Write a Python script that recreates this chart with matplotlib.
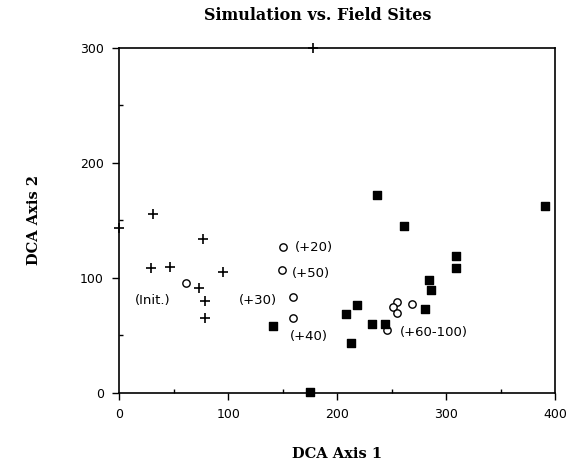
import matplotlib
matplotlib.use("Agg")
import matplotlib.pyplot as plt
from matplotlib.ticker import MultipleLocator

# Initial sites (crosses)
init_x = [30.6, 28.8, 46.6, 77.1, 73.5, 79.0, 79.0, 95.0, 178, 0]
init_y = [155.2, 108.0, 109.4, 134.1, 91.1, 79.8, 65.0, 104.5, 300, 143]

# Simulation trajectory (open circles)
sim_x = [61.2, 150.6, 149.4, 159.2, 159.2, 255.4, 251.6, 255.4, 268.5, 245.5]
sim_y = [95.0, 126.3, 106.5, 83.3, 65.0, 79.0, 74.6, 68.9, 77.2, 54.3]

# Field sites (filled squares)
field_x = [140.9, 208.0, 212.8, 236.9, 261.7, 390.9, 308.9, 308.9, 284.1, 285.9,
           281.0, 218.0, 232.3, 244.0, 175.1]
field_y = [57.8, 68.3, 42.8, 172.3, 144.8, 162.2, 118.7, 108.0, 98.4, 89.1,
           72.6, 75.8, 59.3, 59.3, 0.7]

# Annotations
ann_text = ["(Init.)", "(+20)", "(+50)", "(+30)", "(+40)", "(+60-100)"]
ann_x = [14.4, 161.4, 158.3, 110.2, 156.7, 257.8]
ann_y = [79.8, 126.3, 103.7, 79.8, 48.5, 52.0]

x_ticks = [0, 100, 200, 300, 400]
y_ticks = [0, 100, 200, 300]

fig = plt.figure(figsize=(5.82, 4.68), dpi=100)
ax = fig.add_axes([119.3 / 582, 1 - 392.5 / 468, (555 - 119.3) / 582, (392.5 - 48) / 468])

ax.scatter(init_x, init_y, marker='+', s=42, c='black', linewidths=1.2, clip_on=False, zorder=3)
ax.scatter(sim_x, sim_y, marker='o', s=28, facecolors='white', edgecolors='black',
           linewidths=1.0, clip_on=False, zorder=3)
ax.scatter(field_x, field_y, marker='s', s=32, c='black', clip_on=False, zorder=3)

for t, x, y in zip(ann_text, ann_x, ann_y):
    ax.text(x, y, t, fontsize=9.5, family='DejaVu Sans', ha='left', va='center', color='black')

ax.set_xlim(0, 400)
ax.set_ylim(0, 300)
ax.set_xticks(x_ticks)
ax.set_yticks(y_ticks)
ax.set_xticklabels([str(v) for v in x_ticks])
ax.set_yticklabels([str(v) for v in y_ticks])
ax.xaxis.set_minor_locator(MultipleLocator(50))
ax.yaxis.set_minor_locator(MultipleLocator(50))
ax.tick_params(axis='both', which='major', direction='out', length=5, width=1.0,
               labelsize=9, pad=6)
ax.tick_params(axis='both', which='minor', direction='in', length=3, width=1.0)
for sp in ax.spines.values():
    sp.set_linewidth(1.2)

ax.set_xlabel("DCA Axis 1", fontsize=10.5, family='DejaVu Serif', fontweight='bold', labelpad=19)
ax.set_ylabel("DCA Axis 2", fontsize=10.5, family='DejaVu Serif', fontweight='bold', labelpad=28)
fig.text(318 / 582, 1 - 15 / 468, "Simulation vs. Field Sites", fontsize=11.5,
         family='DejaVu Serif', fontweight='bold', ha='center', va='center')

fig.savefig("out.png", dpi=100)
